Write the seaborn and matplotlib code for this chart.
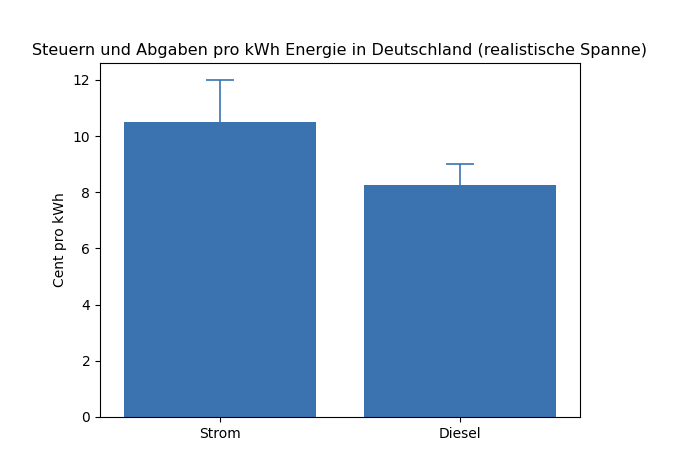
import seaborn as sns
import matplotlib.pyplot as plt
import pandas as pd

# Daten
energietraeger = ['Strom', 'Diesel']
cent_pro_kwh = [10.5, 8.25]
fehler = [1.5, 0.75]

farbe = '#3b73b0'

df = pd.DataFrame({'Energie': energietraeger, 'Cent': cent_pro_kwh})

fig = plt.figure(figsize=(6.8, 4.57), dpi=100)
ax = fig.add_axes([100 / 680, 1 - 417 / 457, 480 / 680, 354 / 457])

sns.barplot(data=df, x='Energie', y='Cent', color=farbe, saturation=1, width=0.8, ax=ax)
ax.errorbar(range(len(energietraeger)), cent_pro_kwh, yerr=fehler, fmt='none',
            ecolor=farbe, capsize=10, elinewidth=1.2, capthick=1.2)

ax.set_title('Steuern und Abgaben pro kWh Energie in Deutschland (realistische Spanne)', fontsize=11.5)
ax.set_xlabel('')
ax.set_ylabel('Cent pro kWh')
ax.set_xlim(-0.5, 1.5)
ax.set_ylim(0, 12.6)

fig.savefig('out.png', dpi=100)
